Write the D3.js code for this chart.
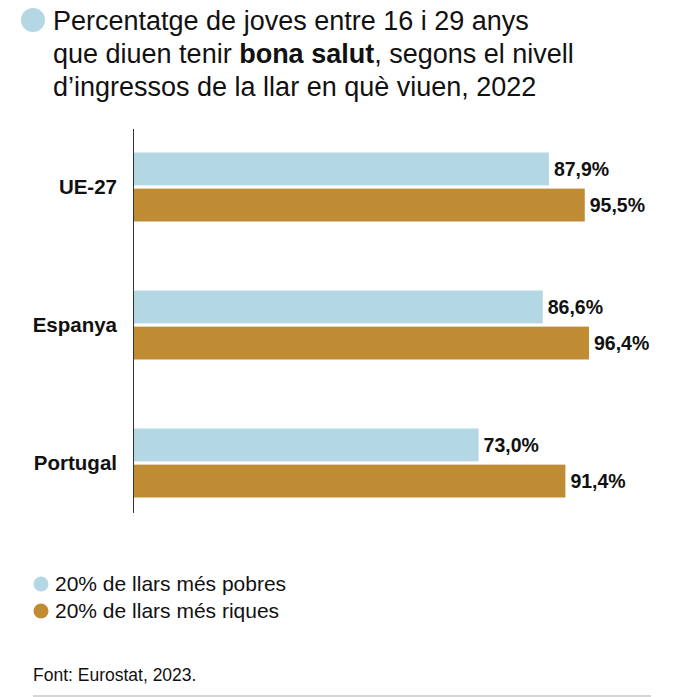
<!DOCTYPE html>
<html>
<head>
<meta charset="utf-8">
<script src="https://cdn.jsdelivr.net/npm/d3@7"></script>
<style>
  body { margin: 0; background: #fff; }
  svg { display: block; font-family: "Liberation Sans", Arial, sans-serif; }
</style>
</head>
<body>
<svg id="chart" width="686" height="697"></svg>
<script>
// data
const countries = ['UE-27', 'Espanya', 'Portugal'];
const series = ['pobres', 'riques'];
const seriesLabels = ['20% de llars més pobres', '20% de llars més riques'];
const poorest = [87.9, 86.6, 73.0];
const richest = [95.5, 96.4, 91.4];
const colors = ['#b3d7e3', '#bf8b33'];

const rows = countries.map((c, i) => ({ country: c, values: [poorest[i], richest[i]] }));

const svg = d3.select('#chart');

const x = d3.scaleLinear().domain([0, 100]).range([134, 606]);
const y0 = d3.scaleBand().domain(countries).range([118, 532]).paddingInner(0.5).paddingOuter(0.25);
const y1 = d3.scaleBand().domain(series).range([0, y0.bandwidth()]).paddingInner(0.09);
const color = d3.scaleOrdinal().domain(series).range(colors);
const fmt = v => d3.format('.1f')(v).replace('.', ',') + '%';

// title
svg.append('circle').attr('cx', 33).attr('cy', 20).attr('r', 12).attr('fill', colors[0]);
const title = svg.append('text').attr('x', 53).attr('y', 30)
    .attr('font-size', 27).attr('fill', '#111');
title.append('tspan').attr('x', 53).attr('y', 30).text('Percentatge de joves entre 16 i 29 anys');
const t2 = title.append('tspan').attr('x', 53).attr('y', 63);
t2.append('tspan').text('que diuen tenir ');
t2.append('tspan').attr('font-weight', 'bold').text('bona salut');
t2.append('tspan').text(', segons el nivell');
title.append('tspan').attr('x', 53).attr('y', 96).text('d’ingressos de la llar en què viuen, 2022');

// bars
const g = svg.append('g').selectAll('g').data(rows).enter()
    .append('g').attr('transform', d => `translate(0,${y0(d.country)})`);

const bars = g.selectAll('g').data(d => d.values.map((v, i) => ({ key: series[i], value: v })))
    .enter().append('g');

bars.append('rect')
    .attr('x', x(0))
    .attr('y', d => y1(d.key))
    .attr('width', d => x(d.value) - x(0))
    .attr('height', y1.bandwidth())
    .attr('fill', d => color(d.key));

bars.append('text')
    .attr('x', d => x(d.value) + 5)
    .attr('y', d => y1(d.key) + y1.bandwidth() / 2)
    .attr('dy', '0.36em')
    .attr('font-size', 19.5).attr('font-weight', 'bold').attr('fill', '#111')
    .text(d => fmt(d.value));

// category axis
const yAxis = svg.append('g').attr('transform', `translate(${x(0)},0)`)
    .call(d3.axisLeft(y0).tickSize(0).tickPadding(17));
yAxis.select('.domain').remove();
yAxis.selectAll('text')
    .attr('font-family', '"Liberation Sans", Arial, sans-serif')
    .attr('font-size', 20.5).attr('font-weight', 'bold').attr('fill', '#111');

svg.append('line')
    .attr('x1', x(0) - 0.5).attr('x2', x(0) - 0.5)
    .attr('y1', 129).attr('y2', 513)
    .attr('stroke', '#333').attr('stroke-width', 1);

// legend
const legend = svg.append('g').selectAll('g').data(series).enter()
    .append('g').attr('transform', (d, i) => `translate(41,${584 + i * 27})`);
legend.append('circle').attr('r', 7.5).attr('fill', d => color(d));
legend.append('text').attr('x', 14).attr('y', 7)
    .attr('font-size', 21).attr('fill', '#111')
    .text((d, i) => seriesLabels[i]);

// source
svg.append('text').attr('x', 33).attr('y', 681)
    .attr('font-size', 17.5).attr('fill', '#111')
    .text('Font: Eurostat, 2023.');

svg.append('line').attr('x1', 33).attr('x2', 651).attr('y1', 696).attr('y2', 696)
    .attr('stroke', '#c8c8c8').attr('stroke-width', 1.5);
</script>
</body>
</html>
